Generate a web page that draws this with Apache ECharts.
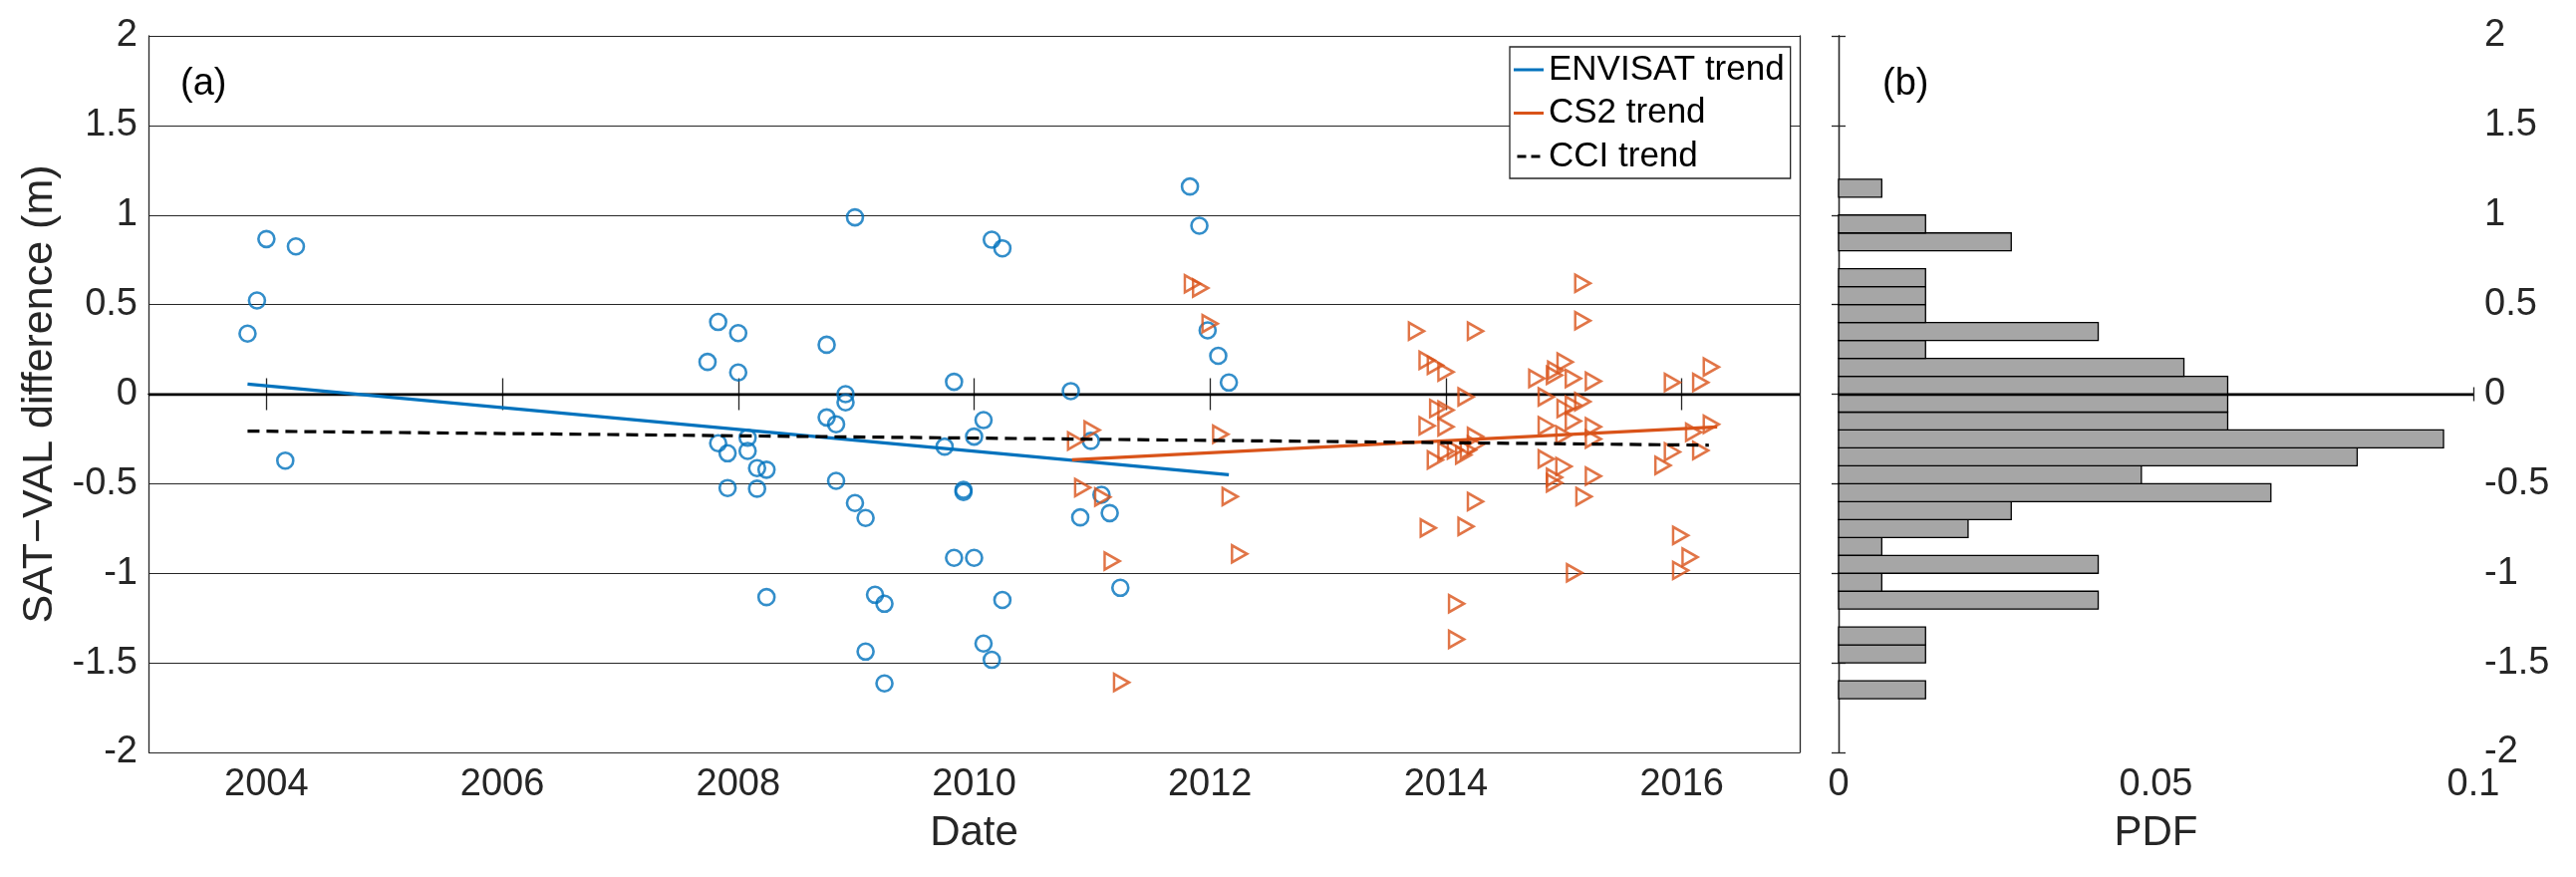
<!DOCTYPE html>
<html><head><meta charset="utf-8">
<script src="https://cdn.jsdelivr.net/npm/echarts@6/dist/echarts.min.js"></script>
<style>html,body{margin:0;padding:0;background:#fff;}#c{width:2585px;height:880px;}</style>
</head><body><div id="c"></div>
<script>
// ---------- data ----------
const envisatDates = [2003.84,2003.92,2004.00,2004.25,2004.16,2007.74,2007.83,2008.00,2008.00,2007.83,2007.91,2008.08,2008.08,2008.16,2008.24,2007.91,2008.16,2008.24,2008.75,2008.91,2008.91,2008.75,2008.83,2008.83,2008.99,2008.99,2009.08,2009.16,2009.24,2009.08,2009.24,2009.83,2009.75,2009.91,2009.91,2009.83,2010.00,2010.00,2010.08,2010.15,2010.24,2010.24,2010.08,2010.15,2010.82,2010.99,2010.90,2011.08,2011.15,2011.24,2011.83,2011.91,2011.98,2012.07,2012.16];
const envisatDiff  = [0.338,0.523,0.866,0.825,-0.371,0.180,0.403,0.341,0.121,-0.274,-0.330,-0.243,-0.317,-0.413,-0.422,-0.524,-0.528,-1.133,0.276,0.000,-0.046,-0.130,-0.168,-0.484,0.987,-0.608,-0.691,-1.120,-1.170,-1.437,-1.615,0.069,-0.293,-0.534,-0.546,-0.914,-0.914,-0.237,-0.145,0.862,0.814,-1.149,-1.392,-1.483,0.017,-0.261,-0.688,-0.562,-0.664,-1.081,1.159,0.940,0.356,0.214,0.065];

const cs2Dates = [2010.86,2011.00,2010.92,2011.09,2011.17,2011.25,2011.85,2011.92,2012.00,2012.09,2012.17,2012.25,2013.75,2014.25,2013.84,2013.91,2014.00,2014.17,2013.93,2014.00,2013.84,2014.00,2014.25,2014.00,2014.08,2014.15,2014.19,2014.25,2013.91,2014.25,2013.85,2014.17,2014.09,2014.09,2014.77,2014.92,2014.93,2015.01,2015.08,2015.25,2015.16,2015.16,2014.85,2015.01,2015.08,2015.16,2015.08,2014.85,2015.25,2015.00,2015.25,2014.85,2015.00,2014.92,2014.92,2015.25,2015.17,2015.09,2015.92,2016.16,2016.25,2016.25,2016.10,2015.92,2016.16,2015.84,2015.99,2016.07,2015.99];
const cs2Diff  = [-0.261,-0.200,-0.521,-0.574,-0.932,-1.609,0.616,0.592,0.393,-0.224,-0.571,-0.892,0.352,0.352,0.189,0.161,0.124,-0.015,-0.080,-0.089,-0.176,-0.182,-0.237,-0.320,-0.311,-0.339,-0.311,-0.283,-0.367,-0.599,-0.747,-0.738,-1.170,-1.368,0.087,0.106,0.134,0.180,0.087,0.072,0.619,0.410,-0.015,-0.080,-0.061,-0.042,-0.150,-0.176,-0.182,-0.228,-0.250,-0.361,-0.404,-0.465,-0.495,-0.457,-0.571,-0.997,0.065,0.065,0.152,-0.168,-0.213,-0.322,-0.314,-0.398,-0.788,-0.910,-0.984];

const envisatTrendDates = [2003.84, 2012.16];
const envisatTrendDiff  = [0.056, -0.450];
const cs2TrendDates = [2010.83, 2016.30];
const cs2TrendDiff  = [-0.367, -0.183];
const cciTrendDates = [2003.84, 2016.23];
const cciTrendDiff  = [-0.206, -0.285];

const binLower = [-1.7,-1.6,-1.5,-1.4,-1.3,-1.2,-1.1,-1.0,-0.9,-0.8,-0.7,-0.6,-0.5,-0.4,-0.3,-0.2,-0.1,0.0,0.1,0.2,0.3,0.4,0.5,0.6,0.7,0.8,0.9,1.0,1.1];
const binPdf   = [0.0137,0,0.0137,0.0137,0,0.0409,0.0068,0.0409,0.0068,0.0204,0.0272,0.0681,0.0477,0.0817,0.0953,0.0613,0.0613,0.0613,0.0544,0.0137,0.0409,0.0137,0.0137,0.0137,0,0.0272,0.0137,0,0.0068];
const binWidth = 0.1;

const dateTicks = [2004,2006,2008,2010,2012,2014,2016];

// ---------- chart ----------
const FONT = 'Liberation Sans';
const TXT = '#262626';
const BLUE = '#0072BD', ORANGE = '#D95319';

const zip = (a,b) => a.map((v,i)=>[v,b[i]]);
const histData = [];
binLower.forEach((lo,i)=>{ if(binPdf[i]>0) histData.push([binPdf[i], lo, +(lo+binWidth).toFixed(2)]); });

const chart = echarts.init(document.getElementById('c'), null, {renderer:'canvas'});
const axLine = {show:true, lineStyle:{color:TXT, width:1.3}};
const lbl = {fontFamily:FONT, fontSize:38, color:TXT};
const plain = v => String(v);

const SOLID_ICON = 'path://M0,0H30V3H0Z';
const DASH_ICON = 'path://M0,0H9V3H0Z M14,0H23V3H14Z';

chart.setOption({
  animation:false,
  backgroundColor:'#fff',
  textStyle:{fontFamily:FONT},
  grid:[
    {left:149, top:36, width:1657, height:719, containLabel:false},
    {left:1845, top:36, width:637, height:719, containLabel:false}
  ],
  xAxis:[
    {gridIndex:0, type:'value', min:2003, max:2017, position:'bottom',
     axisLine:axLine, splitLine:{show:false},
     axisTick:{show:true, inside:true, length:16, customValues:dateTicks, lineStyle:{color:TXT,width:1.3}},
     axisLabel:Object.assign({customValues:dateTicks, margin:14, formatter:plain}, lbl),
     name:'Date', nameLocation:'middle', nameGap:60,
     nameTextStyle:{fontFamily:FONT, fontSize:42, color:TXT}},
    {gridIndex:0, type:'value', min:2003, max:2017, position:'top',
     axisLine:axLine, splitLine:{show:false},
     axisTick:{show:true, inside:true, length:16, customValues:dateTicks, lineStyle:{color:TXT,width:1.3}},
     axisLabel:{show:false}},
    {gridIndex:1, type:'value', min:0, max:0.1, interval:0.05, position:'bottom',
     axisLine:axLine, splitLine:{show:false},
     axisTick:{show:true, inside:true, length:7, lineStyle:{color:TXT,width:1.3}},
     axisLabel:Object.assign({margin:14, formatter:plain}, lbl),
     name:'PDF', nameLocation:'middle', nameGap:60,
     nameTextStyle:{fontFamily:FONT, fontSize:42, color:TXT}},
    {gridIndex:1, type:'value', min:0, max:0.1, interval:0.05, position:'top',
     axisLine:axLine, splitLine:{show:false},
     axisTick:{show:true, inside:true, length:7, lineStyle:{color:TXT,width:1.3}},
     axisLabel:{show:false}}
  ],
  yAxis:[
    {gridIndex:0, type:'value', min:-2, max:2, interval:0.5, position:'left',
     axisLine:axLine, axisTick:{show:false},
     splitLine:{show:true, lineStyle:{color:TXT, width:1.2}},
     axisLabel:Object.assign({margin:11, formatter:plain}, lbl),
     name:'SAT\u2212VAL difference (m)', nameLocation:'middle', nameGap:85,
     nameTextStyle:{fontFamily:FONT, fontSize:43, color:TXT}},
    {gridIndex:0, type:'value', min:-2, max:2, interval:0.5, position:'right',
     axisLine:axLine, axisTick:{show:false}, splitLine:{show:false}, axisLabel:{show:false}},
    {gridIndex:1, type:'value', min:-2, max:2, interval:0.5, position:'right',
     axisLine:axLine, splitLine:{show:false},
     axisTick:{show:true, inside:true, length:7, lineStyle:{color:TXT,width:1.3}},
     axisLabel:Object.assign({margin:11, formatter:plain}, lbl)},
    {gridIndex:1, type:'value', min:-2, max:2, interval:0.5, position:'left',
     axisLine:axLine, splitLine:{show:false},
     axisTick:{show:true, inside:true, length:7, lineStyle:{color:TXT,width:1.3}},
     axisLabel:{show:false}}
  ],
  legend:{
    data:[
      {name:'ENVISAT trend', icon:SOLID_ICON},
      {name:'CS2 trend', icon:SOLID_ICON},
      {name:'CCI trend', icon:DASH_ICON}
    ],
    orient:'vertical', left:1515, top:47,
    backgroundColor:'#fff', borderColor:TXT, borderWidth:1.3, borderRadius:0,
    padding:[3,6,2,4], itemGap:3.5, itemWidth:30, itemHeight:3,
    textStyle:{fontFamily:FONT, fontSize:35, color:'#000', lineHeight:40},
    selectedMode:false
  },
  graphic:[
    {type:'text', left:181, top:66, style:{text:'(a)', font:'38px "Liberation Sans"', fill:'#000'}},
    {type:'text', left:1889, top:66, style:{text:'(b)', font:'38px "Liberation Sans"', fill:'#000'}}
  ],
  series:[
    {name:'ENVISAT', type:'scatter', xAxisIndex:0, yAxisIndex:0,
     data:zip(envisatDates, envisatDiff), symbol:'circle', symbolSize:16,
     itemStyle:{color:'rgba(0,0,0,0)', borderColor:BLUE, borderWidth:2.6}, z:3,
     markLine:{silent:true, symbol:['none','none'], label:{show:false},
       lineStyle:{color:'#000', width:2.4, type:'solid'}, data:[{yAxis:0}], z:2}},
    {name:'CS2', type:'scatter', xAxisIndex:0, yAxisIndex:0,
     data:zip(cs2Dates, cs2Diff), symbol:'path://M0,0L10,5L0,10Z', symbolSize:[15,17],
     itemStyle:{color:'rgba(0,0,0,0)', borderColor:ORANGE, borderWidth:2.6}, z:3},
    {name:'ENVISAT trend', type:'line', xAxisIndex:0, yAxisIndex:0,
     data:zip(envisatTrendDates, envisatTrendDiff), symbol:'none', showSymbol:false,
     lineStyle:{color:BLUE, width:3.2}, itemStyle:{color:BLUE}, z:4},
    {name:'CS2 trend', type:'line', xAxisIndex:0, yAxisIndex:0,
     data:zip(cs2TrendDates, cs2TrendDiff), symbol:'none', showSymbol:false,
     lineStyle:{color:ORANGE, width:3.2}, itemStyle:{color:ORANGE}, z:4},
    {name:'CCI trend', type:'line', xAxisIndex:0, yAxisIndex:0,
     data:zip(cciTrendDates, cciTrendDiff), symbol:'none', showSymbol:false,
     lineStyle:{color:'#000', width:3.2, type:[12,7]}, itemStyle:{color:'#000'}, z:4},
    {name:'hist', type:'custom', xAxisIndex:2, yAxisIndex:2,
     data:histData, encode:{x:0, y:[1,2]},
     renderItem:function(params, api){
       const p0 = api.coord([0, api.value(2)]);
       const p1 = api.coord([api.value(0), api.value(1)]);
       return {type:'rect', shape:{x:p0[0], y:p0[1], width:p1[0]-p0[0], height:p1[1]-p0[1]},
               style:{fill:'#a6a6a6', stroke:'#000', lineWidth:1.3}};
     },
     markLine:{silent:true, symbol:['none','none'], label:{show:false},
       lineStyle:{color:'#000', width:2.4, type:'solid'}, data:[{yAxis:0}]}}
  ]
});
</script></body></html>
